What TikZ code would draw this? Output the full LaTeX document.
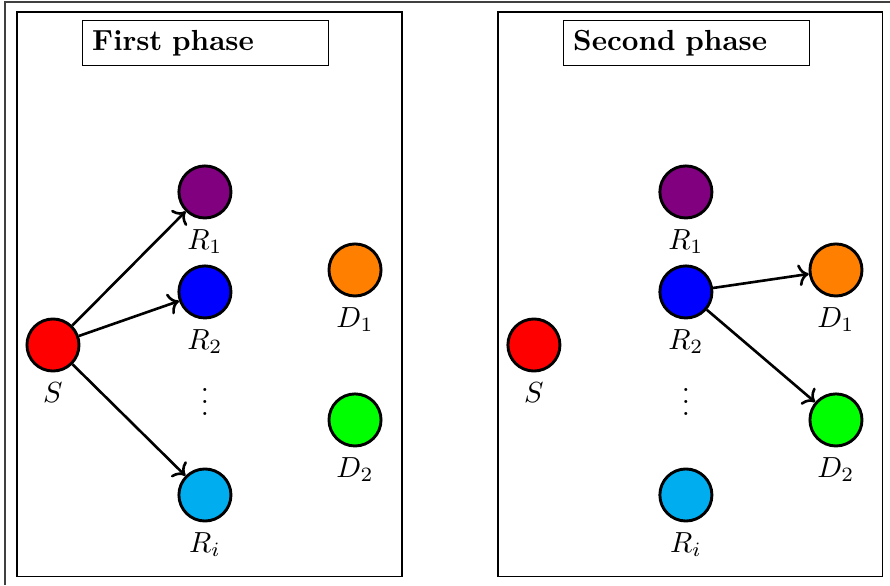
\documentclass[tikz,border=0pt]{standalone}
\usepackage{amsmath}
\usetikzlibrary{arrows.meta, positioning}
\definecolor{relaypurple}{RGB}{128,0,128}
\definecolor{relaycyan}{RGB}{0,174,239}
\definecolor{destorange}{RGB}{255,128,0}
\tikzset{
  user/.style={circle, draw, line width=1pt, minimum size=0.63cm, inner sep=0pt,
    label distance=1pt},
  link/.style={->, line width=0.9pt},
  phasebox/.style={draw, line width=0.4pt, minimum height=0.545cm, text width=2.745cm,
    align=left, font=\bfseries},
}
% one panel: #1 shift (cm), #2 name prefix, #3 title
\newcommand{\phasepanel}[3]{%
  \begin{scope}[xshift=#1cm]
  \draw[line width=0.4pt] (0.206,-0.145) rectangle (4.864,-6.98);
  \node[phasebox, anchor=north west] (#2title) at (0.992,-0.242) {#3};
  \node[user, fill=red, label={below:$S$}] (#2S) at (0.641,-4.175) {};
  \node[user, fill=relaypurple, label={below:$R_1$}] (#2R1) at (2.48,-2.323) {};
  \node[user, fill=blue, label={below:$R_2$}] (#2R2) at (2.48,-3.533) {};
  \node (#2dots) at (2.48,-4.76) {$\vdots$};
  \node[user, fill=relaycyan, label={below:$R_i$}] (#2Ri) at (2.48,-5.99) {};
  \node[user, fill=destorange, label={below:$D_1$}] (#2D1) at (4.296,-3.267) {};
  \node[user, fill=green, label={below:$D_2$}] (#2D2) at (4.296,-5.082) {};
  \end{scope}}

\begin{document}
\begin{tikzpicture}
\useasboundingbox (0,0) rectangle (10.77,-7.08);
% outer frame (cut at right and bottom)
\draw[line width=0.5pt, black!75] (0.06,-7.08) -- (0.06,-0.024) -- (10.77,-0.024);
% first phase: S broadcasts to the relays
\phasepanel{0}{a}{First phase}
\draw[link] (aS) -- (aR1);
\draw[link] (aS) -- (aR2);
\draw[link] (aS) -- (aRi);
% second phase: R2 forwards to the destinations
\phasepanel{5.82}{b}{Second phase}
\draw[link] (bR2) -- (bD1);
\draw[link] (bR2) -- (bD2);
\end{tikzpicture}
\end{document}
